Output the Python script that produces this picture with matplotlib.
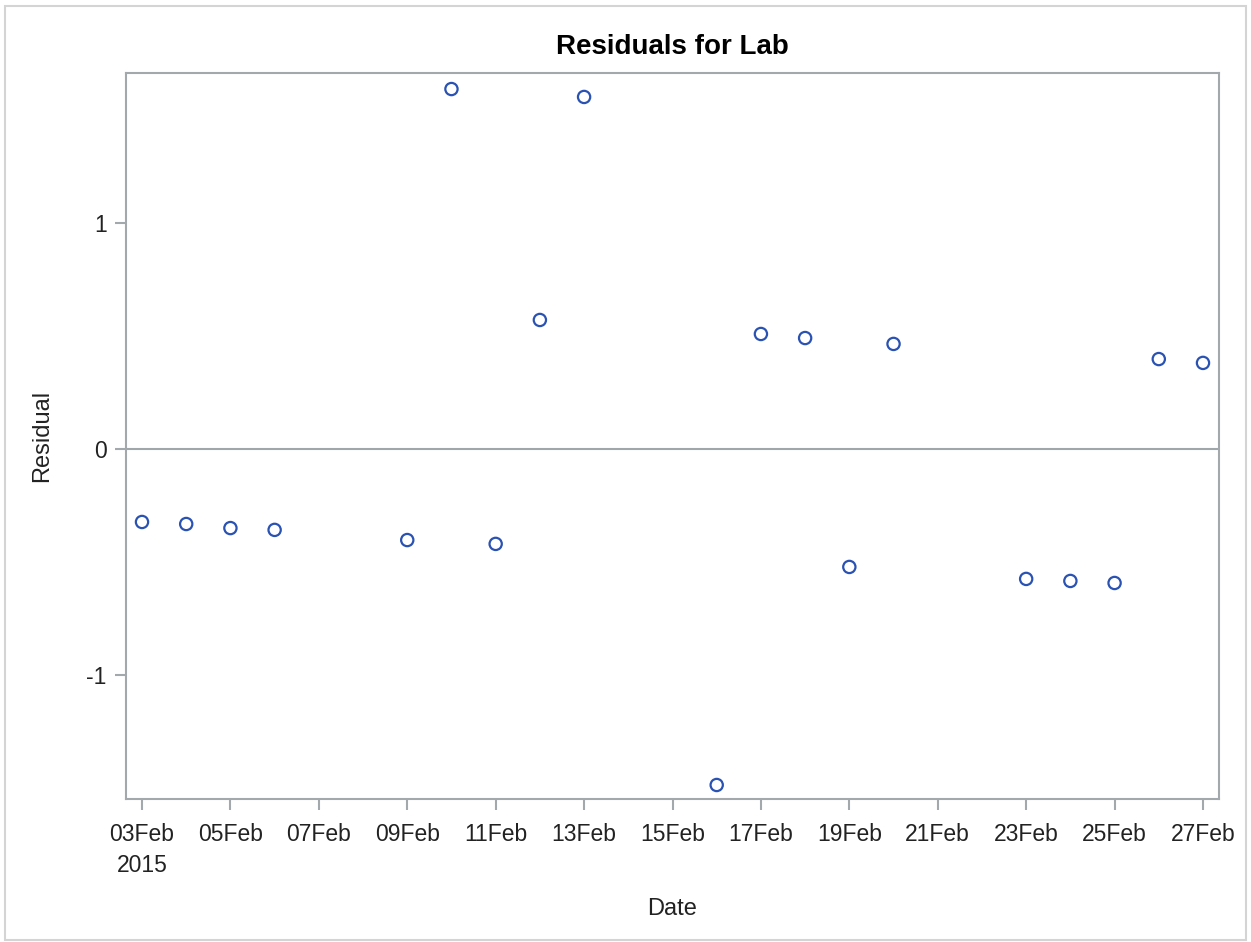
import numpy as np
import matplotlib
matplotlib.use("Agg")
import matplotlib.pyplot as plt
from datetime import datetime, timedelta

plt.rcParams['font.family'] = ['Liberation Sans', 'DejaVu Sans']
plt.rcParams['axes.unicode_minus'] = False

# residuals
dates = ["2015-02-03", "2015-02-04", "2015-02-05", "2015-02-06", "2015-02-09",
         "2015-02-10", "2015-02-11", "2015-02-12", "2015-02-13", "2015-02-16",
         "2015-02-17", "2015-02-18", "2015-02-19", "2015-02-20", "2015-02-23",
         "2015-02-24", "2015-02-25", "2015-02-26", "2015-02-27"]
residuals = [-0.323, -0.332, -0.350, -0.358, -0.403,
             1.593, -0.420, 0.571, 1.558, -1.487,
             0.509, 0.491, -0.522, 0.465, -0.575,
             -0.584, -0.593, 0.398, 0.381]
yticks = [-1, 0, 1]

x = [datetime.strptime(d, "%Y-%m-%d") for d in dates]

fig = plt.figure(figsize=(12.51, 9.42), dpi=100)
ax = fig.add_axes([126 / 1251, 1 - 799 / 942, (1219 - 126) / 1251, (799 - 73) / 942])

frame_col = "#a3a8ad"
ax.axhline(0, color="#9fa7ab", lw=1.5, zorder=1)
ax.scatter(x, residuals, s=78, facecolors="none", edgecolors="#2a52b3", linewidths=1.6, zorder=3)

pad = timedelta(days=0.362)
ax.set_xlim(x[0] - pad, x[-1] + pad)
ax.set_ylim(-1.549, 1.664)

ticks = [x[0] + timedelta(days=2 * i) for i in range(13)]
ax.set_xticks(ticks)
labels = [t.strftime("%d%b") for t in ticks]
labels[0] = labels[0] + "\n2015"
ax.set_xticklabels(labels, linespacing=1.45)
ax.set_yticks(yticks)

for sp in ax.spines.values():
    sp.set_color(frame_col)
    sp.set_linewidth(1.5)
ax.tick_params(axis="both", colors=frame_col, labelcolor="#222222", labelsize=16.5, length=8, width=1.5)
ax.tick_params(axis="x", pad=9)
ax.tick_params(axis="y", pad=6)

ax.set_title("Residuals for Lab", fontsize=20, fontweight="bold", pad=14)
ax.set_xlabel("Date", fontsize=17, color="#222222", labelpad=15)
ax.set_ylabel("Residual", fontsize=17, color="#222222", labelpad=24)

# outer border
fig.patches.append(plt.Rectangle((5 / 1251, 2 / 942), 1 - 10 / 1251, 1 - 8 / 942, transform=fig.transFigure,
                                 fill=False, edgecolor="#d4d4d4", lw=1.5))

fig.savefig("out.png", dpi=100)
